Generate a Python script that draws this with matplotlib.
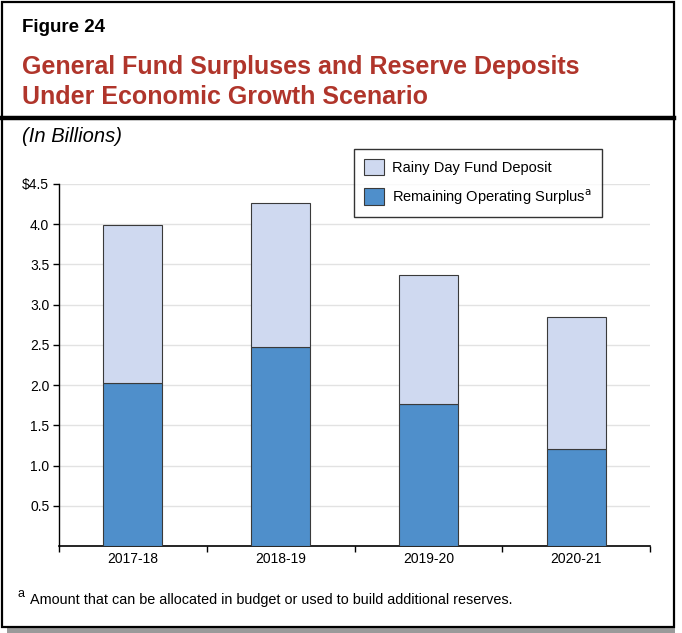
import numpy as np
import matplotlib
matplotlib.use("Agg")
import matplotlib.pyplot as plt
from matplotlib.patches import Rectangle
from matplotlib.lines import Line2D

plt.rcParams['font.family'] = ['Liberation Sans', 'DejaVu Sans']

years = ["2017-18", "2018-19", "2019-20", "2020-21"]
operating_surplus = [2.02, 2.47, 1.77, 1.21]
rainy_day = [1.97, 1.79, 1.60, 1.63]
y_ticks = [0.5, 1.0, 1.5, 2.0, 2.5, 3.0, 3.5, 4.0, 4.5]
y_labels = ["0.5", "1.0", "1.5", "2.0", "2.5", "3.0", "3.5", "4.0", "$4.5"]

W, H = 682, 633


def px(x):
    return x / W


def py(y):
    return 1 - y / H


fig = plt.figure(figsize=(W / 100, H / 100), dpi=100)

# frame with drop shadow
fig.add_artist(Rectangle((px(7), py(633)), px(675) - px(7), py(7) - py(633),
                         transform=fig.transFigure, facecolor="#9a9a9a", edgecolor="none", zorder=0))
fig.add_artist(Rectangle((px(1.5), py(627)), px(674) - px(1.5), py(1.5) - py(627),
                         transform=fig.transFigure, facecolor="white", edgecolor="black",
                         linewidth=1.6, zorder=1))
fig.add_artist(Line2D([px(1.5), px(674)], [py(117.5), py(117.5)], transform=fig.transFigure,
                      color="black", linewidth=3.2, zorder=2))

fig.text(px(22), py(27), "Figure 24", fontsize=13.5, fontweight="bold", va="center", ha="left")
fig.text(px(22), py(67), "General Fund Surpluses and Reserve Deposits", fontsize=18,
         fontweight="bold", color="#b0352b", va="center", ha="left")
fig.text(px(22), py(97), "Under Economic Growth Scenario", fontsize=18,
         fontweight="bold", color="#b0352b", va="center", ha="left")
fig.text(px(22), py(137), "(In Billions)", fontsize=14.5, style="italic", va="center", ha="left")
fig.text(px(18), py(594), "a", fontsize=9, va="center", ha="left")
fig.text(px(30), py(600), "Amount that can be allocated in budget or used to build additional reserves.",
         fontsize=10.4, va="center", ha="left")

ax = fig.add_axes([px(59), py(546), px(650) - px(59), py(183.8) - py(546)])
ax.set_zorder(3)
ax.patch.set_alpha(0)

x = np.arange(len(years))
b1 = ax.bar(x, operating_surplus, width=0.4, color="#4f8fcb", edgecolor="#3a3a3a",
            linewidth=0.8, zorder=3, label="Remaining Operating Surplus$^{\\mathrm{a}}$")
b2 = ax.bar(x, rainy_day, width=0.4, bottom=operating_surplus, color="#cfd9f0",
            edgecolor="#3a3a3a", linewidth=0.8, zorder=3, label="Rainy Day Fund Deposit")

ax.set_xlim(-0.5, len(years) - 0.5)
ax.set_ylim(0, 4.5)
ax.set_yticks(y_ticks)
ax.set_yticklabels(y_labels, fontsize=10)
ax.set_xticks(x)
ax.set_xticklabels(years, fontsize=10)
ax.tick_params(axis="x", length=0, pad=4)
ax.set_xticks(np.arange(len(years) + 1) - 0.5, minor=True)
ax.tick_params(axis="x", which="minor", length=4, width=1, direction="out")
ax.tick_params(axis="y", length=4, width=1, direction="out", pad=3)
ax.yaxis.grid(True, color="#e2e2e2", linewidth=1, zorder=0)
ax.set_axisbelow(True)
for s in ["top", "right"]:
    ax.spines[s].set_visible(False)
ax.spines["left"].set_linewidth(1)
ax.spines["bottom"].set_linewidth(1.2)

leg = ax.legend(handles=[b2, b1], loc="upper left",
                bbox_to_anchor=(px(354 - 59) / (px(650) - px(59)), 1.097),
                fontsize=10.5, frameon=True, fancybox=False, edgecolor="black",
                borderpad=0.7, labelspacing=0.8, handlelength=1.35, handleheight=1.35,
                handletextpad=0.55, borderaxespad=0)
leg.get_frame().set_linewidth(1)

fig.savefig("out.png", dpi=100)
